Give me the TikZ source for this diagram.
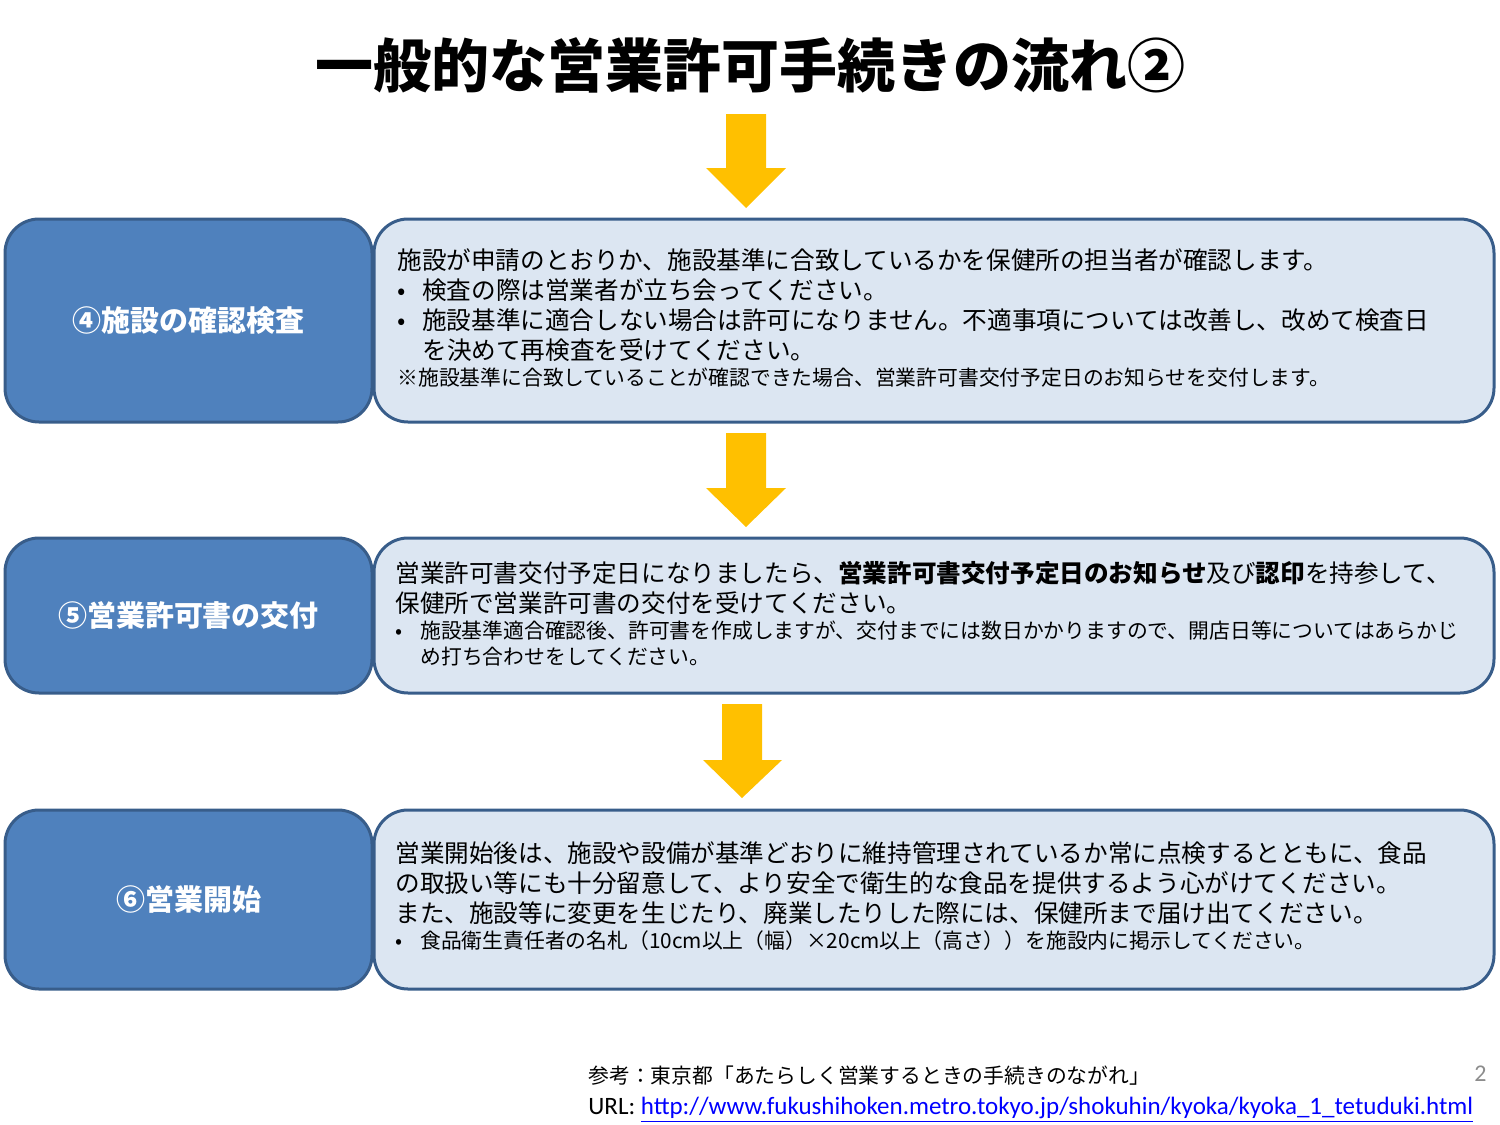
\documentclass[tikz,border=0pt]{standalone}
\usepackage{fontspec}
\setmainfont{Noto Sans CJK JP}
\newfontfamily\urlfont{Carlito}
\definecolor{stepblue}{HTML}{4F81BD}
\definecolor{stepline}{HTML}{385D8A}
\definecolor{descfill}{HTML}{DCE6F2}
\definecolor{arrowyellow}{HTML}{FFC000}
\definecolor{pagegray}{HTML}{8C8C8C}
\definecolor{linkblue}{HTML}{0000FF}
\setlength{\parskip}{0pt}
\newcommand{\mainsize}{\fontsize{12.3pt}{15pt}\selectfont}
\newcommand{\notesize}{\fontsize{10.4pt}{13pt}\selectfont}
\newcommand{\bul}{\noindent\hangindent=12.5pt\hangafter=1\makebox[12.5pt][l]{•}}

\begin{document}
\begin{tikzpicture}[
    x=0.5pt, y=-0.5pt,
    stepbox/.style={draw=stepline, line width=1.5pt, fill=stepblue, rounded corners=17pt,
        text=white, font=\fontsize{14.5pt}{17pt}\selectfont\bfseries},
    descbox/.style={draw=stepline, line width=1.5pt, fill=descfill, rounded corners=17pt},
    desctext/.style={anchor=base west, inner sep=0pt, text width=545pt, align=left, font=\mainsize},
    yarrow/.style={fill=arrowyellow, draw=none}
]
    \useasboundingbox (0,0) rectangle (1500,1125);

    \node[anchor=base, inner sep=0pt, font=\fontsize{29pt}{34pt}\selectfont\bfseries] (title) at (750,87) {一般的な営業許可手続きの流れ②};

    % block arrows
    \fill[yarrow] (726,114) -- (766,114) -- (766,168) -- (786,168) -- (746,208) -- (706,168) -- (726,168) -- cycle;
    \fill[yarrow] (726,433) -- (766,433) -- (766,488) -- (786,488) -- (746,527) -- (706,488) -- (726,488) -- cycle;
    \fill[yarrow] (722,704) -- (762,704) -- (762,760) -- (782,760) -- (742,798) -- (703,760) -- (722,760) -- cycle;

    % step 4
    \node[descbox, minimum width=560pt, minimum height=101.5pt] (desc4) at (934,320.5) {};
    \node[stepbox, minimum width=183.5pt, minimum height=101.5pt] (step4) at (188.5,320.5) {④施設の確認検査};
    \node[desctext] (txt4) at (397,269) {%
        施設が申請のとおりか、施設基準に合致しているかを保健所の担当者が確認します。\par
        \bul 検査の際は営業者が立ち会ってください。\par
        \bul 施設基準に適合しない場合は許可になりません。不適事項については改善し、改めて検査日\newline を決めて再検査を受けてください。\par
        {\notesize ※施設基準に合致していることが確認できた場合、営業許可書交付予定日のお知らせを交付します。\par}};

    % step 5
    \node[descbox, minimum width=560pt, minimum height=77.5pt] (desc5) at (934,615.5) {};
    \node[stepbox, minimum width=183.5pt, minimum height=77.5pt] (step5) at (188.5,615.5) {⑤営業許可書の交付};
    \node[desctext] (txt5) at (395,582) {%
        営業許可書交付予定日になりましたら、\textbf{営業許可書交付予定日のお知らせ}及び\textbf{認印}を持参して、\par
        保健所で営業許可書の交付を受けてください。\par
        {\notesize \bul 施設基準適合確認後、許可書を作成しますが、交付までには数日かかりますので、開店日等についてはあらかじ\newline め打ち合わせをしてください。\par}};

    % step 6
    \node[descbox, minimum width=560pt, minimum height=89.5pt] (desc6) at (934,899.5) {};
    \node[stepbox, minimum width=183.5pt, minimum height=89.5pt] (step6) at (188.5,899.5) {⑥営業開始};
    \node[desctext] (txt6) at (395,862) {%
        営業開始後は、施設や設備が基準どおりに維持管理されているか常に点検するとともに、食品\par
        の取扱い等にも十分留意して、より安全で衛生的な食品を提供するよう心がけてください。\par
        また、施設等に変更を生じたり、廃業したりした際には、保健所まで届け出てください。\par
        {\notesize \bul 食品衛生責任者の名札（10cm以上（幅）×20cm以上（高さ））を施設内に掲示してください。\par}};

    % footer
    \node[anchor=base west, inner sep=0pt, font=\notesize] (source) at (588,1083) {参考：東京都「あたらしく営業するときの手続きのながれ」};
    \node[anchor=base west, inner sep=0pt, font=\urlfont\fontsize{12.5pt}{14pt}\selectfont] (url) at (588,1114)
        {URL: \textcolor{linkblue}{\underline{http://www.fukushihoken.metro.tokyo.jp/shokuhin/kyoka/kyoka\_1\_tetuduki.html}}};
    \node[anchor=base east, inner sep=0pt, text=pagegray, font=\urlfont\fontsize{12pt}{14pt}\selectfont] (page) at (1487,1081) {2};
\end{tikzpicture}
\end{document}
